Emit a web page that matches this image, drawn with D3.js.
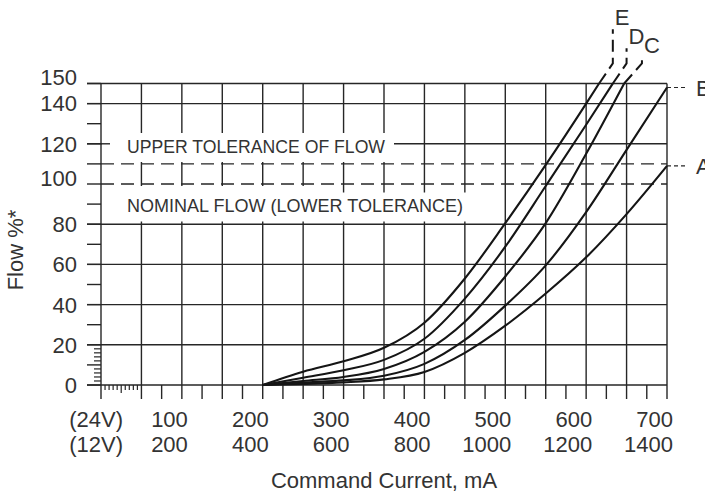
<!DOCTYPE html>
<html><head><meta charset="utf-8">
<script src="https://cdn.jsdelivr.net/npm/d3@7"></script>
<style>
html,body{margin:0;padding:0;background:#fff;}
svg{display:block;font-family:"Liberation Sans",Arial,Helvetica,sans-serif;}
</style></head><body>
<svg id="chart" width="705" height="494"></svg>
<script>
// ---- data ----
const xLabels24 = [100, 200, 300, 400, 500, 600, 700];      // mA at 24V
const xLabels12 = [200, 400, 600, 800, 1000, 1200, 1400];   // mA at 12V
const yLabels = [0, 20, 40, 60, 80, 100, 120, 140, 150];
const upperTolerance = 110;
const nominalFlow = 100;

// [command current (24V mA), flow %]
const curveA = [[200,0],[250,0.5],[300,1.3],[350,2.8],[400,6.5],[450,16],[500,29.5],[550,45.5],[600,63.5],[650,85],[700,109]];
const curveB = [[200,0],[250,1.2],[300,2.3],[350,4.6],[400,10.5],[450,22.4],[500,39.5],[550,59.5],[600,86],[650,117],[700,148]];
const curveC = [[200,0],[250,2],[300,4],[350,8],[400,16.5],[450,31.5],[500,54],[550,80.5],[600,115],[647,150]];
const curveD = [[200,0],[250,3.6],[300,7.3],[350,12.5],[400,23],[450,43],[500,68.8],[550,99],[600,129.5],[633,150]];
const curveE = [[200,0],[250,6.6],[300,11.8],[350,18.5],[400,31],[450,53],[500,80.5],[550,109.5],[600,140],[616,150]];
// dashed extensions above the chart (leaders to labels)
const extC = [[647,150],[669,160],[669,163]];
const extD = [[633,150],[650,160],[650,167.5]];
const extE = [[616,150],[633,160],[633,177]];

// ---- layout ----
const svg = d3.select("#chart");
const x = d3.scaleLinear().domain([0, 700]).range([101, 667]);
const y = d3.scaleLinear().domain([0, 150]).range([385, 83.5]);
const INK = "#262626", TXT = "#333";
const GW = 1.4;

svg.append("rect").attr("width",705).attr("height",494).attr("fill","#fff");

const g = svg.append("g");
// vertical grid
g.selectAll("line.vg").data(d3.range(50, 701, 50)).join("line")
  .attr("x1", d=>x(d)).attr("x2", d=>x(d)).attr("y1", y(150)).attr("y2", y(0))
  .attr("stroke", INK).attr("stroke-width", GW);
// horizontal grid (solid)
g.selectAll("line.hg").data([20,40,60,80,120,140,150]).join("line")
  .attr("x1", x(0)-14).attr("x2", x(700)).attr("y1", d=>y(d)).attr("y2", d=>y(d))
  .attr("stroke", INK).attr("stroke-width", GW);

// white boxes behind the inner texts
svg.append("rect").attr("x", x(0)+1).attr("y", 133).attr("width", 292).attr("height", 29).attr("fill","#fff");
svg.append("path").attr("d", `M${x(0)+1},186 H330 V192.5 H470 V221.5 H${x(0)+1} Z`).attr("fill","#fff");

// dashed tolerance lines
[upperTolerance, nominalFlow].forEach(v=>{
  svg.append("line").attr("x1", x(0)).attr("x2", x(700)).attr("y1", y(v)).attr("y2", y(v))
    .attr("stroke", INK).attr("stroke-width", GW).attr("stroke-dasharray","13,7");
});

// axes
const ax = svg.append("g").attr("stroke", INK).attr("stroke-width", GW);
ax.append("line").attr("x1", x(0)).attr("x2", x(0)).attr("y1", y(150)).attr("y2", y(0)+14);
ax.append("line").attr("x1", x(0)-14).attr("x2", x(700)).attr("y1", y(0)).attr("y2", y(0));
// y major ticks every 10
ax.selectAll("line.yt").data(d3.range(0, 151, 10)).join("line")
  .attr("x1", x(0)-14).attr("x2", d=> d===120 ? x(0)+9 : x(0)).attr("y1", d=>y(d)).attr("y2", d=>y(d));
// y minor ticks
ax.selectAll("line.ym").data(d3.range(2, 20, 2).filter(d=>d!==10)).join("line")
  .attr("x1", x(0)-7).attr("x2", x(0)).attr("y1", d=>y(d)).attr("y2", d=>y(d)).attr("stroke-width",1.2);
// x major ticks every 25
ax.selectAll("line.xt").data(d3.range(50, 701, 25)).join("line")
  .attr("x1", d=>x(d)).attr("x2", d=>x(d)).attr("y1", y(0)).attr("y2", y(0)+14);
// x minor ticks
ax.selectAll("line.xm").data(d3.range(5, 50, 5)).join("line")
  .attr("x1", d=>x(d)).attr("x2", d=>x(d)).attr("y1", y(0)).attr("y2", d=> y(0) + (d===25 ? 8 : 5)).attr("stroke-width",1.2);

// curves
const line = d3.line().x(d=>x(d[0])).y(d=>y(d[1])).curve(d3.curveMonotoneX);
const curves = [curveA, curveB, curveC, curveD, curveE];
svg.append("g").selectAll("path").data(curves).join("path")
  .attr("d", line).attr("fill","none").attr("stroke","#151515").attr("stroke-width",2.1);
const lin = d3.line().x(d=>x(d[0])).y(d=>y(d[1]));
svg.append("g").selectAll("path").data([extC, extD, extE]).join("path")
  .attr("d", lin).attr("fill","none").attr("stroke","#151515").attr("stroke-width",2)
  .attr("stroke-dasharray","12,6");

// A / B leaders
const endA = curveA[curveA.length-1], endB = curveB[curveB.length-1];
[[endA,"A"],[endB,"B"]].forEach(([p,lab])=>{
  svg.append("line").attr("x1", x(p[0])).attr("x2", x(p[0])+19).attr("y1", y(p[1])).attr("y2", y(p[1]))
    .attr("stroke", INK).attr("stroke-width",1.2).attr("stroke-dasharray","4,3");
  svg.append("text").attr("x", x(p[0])+29).attr("y", y(p[1])+8).attr("font-size",22).attr("fill",TXT).text(lab);
});
// E D C labels
const topE = extE[extE.length-1], topD = extD[extD.length-1], topC = extC[extC.length-1];
[[topE,"E"],[topD,"D"],[topC,"C"]].forEach(([p,lab])=>{
  svg.append("text").attr("x", x(p[0])+2).attr("y", y(p[1])-4).attr("font-size",22).attr("fill",TXT).text(lab);
});

// y tick labels
const yOff = v => v===150 ? -6 : v===140 ? -1 : v===100 ? -5.5 : 0;
svg.append("g").selectAll("text").data(yLabels).join("text")
  .attr("x", 77).attr("y", d=>y(d)+yOff(d)).attr("dy","0.36em").attr("text-anchor","end")
  .attr("font-size",22).attr("fill",TXT).text(d=>d);

// x tick labels (two rows)
const xl = svg.append("g").attr("font-size",22).attr("fill",TXT).attr("text-anchor","end");
xl.selectAll("text.r1").data(xLabels24).join("text").attr("x", d=>x(d)+6).attr("y", 427).text(d=>d);
xl.selectAll("text.r2").data(xLabels12).join("text").attr("x", (d,i)=>x(xLabels24[i])+6).attr("y", 452).text(d=>d);
xl.append("text").attr("x", 123).attr("y", 427).text("(24V)");
xl.append("text").attr("x", 123).attr("y", 452).text("(12V)");

// inner texts
svg.append("text").attr("x", 127).attr("y", 153).attr("font-size",19).attr("fill",TXT)
  .attr("textLength",258).attr("lengthAdjust","spacingAndGlyphs").text("UPPER TOLERANCE OF FLOW");
svg.append("text").attr("x", 127).attr("y", 211.5).attr("font-size",19).attr("fill",TXT)
  .attr("textLength",336).attr("lengthAdjust","spacingAndGlyphs").text("NOMINAL FLOW (LOWER TOLERANCE)");

// axis titles
svg.append("text").attr("x", (x(0)+x(700))/2).attr("y", 488).attr("text-anchor","middle")
  .attr("font-size",22).attr("fill",TXT).text("Command Current, mA");
svg.append("text").attr("transform","translate(23,250) rotate(-90)").attr("text-anchor","middle")
  .attr("font-size",22).attr("fill",TXT).text("Flow %*");
</script>
</body></html>
